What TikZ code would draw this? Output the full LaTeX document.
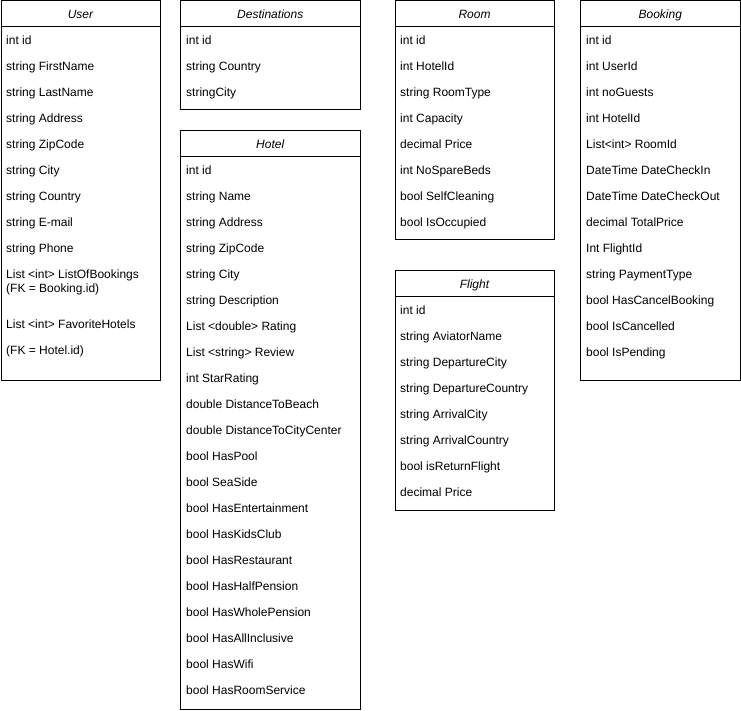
\documentclass[tikz,border=0pt]{standalone}
\usepackage{fontspec}
\setmainfont{Liberation Sans}
\begin{document}
\begin{tikzpicture}[x=1pt,y=-1pt,
  box/.style={draw=black,line width=1pt},
  hdr/.style={font=\fontsize{12}{14}\selectfont\itshape,anchor=base,inner sep=0pt},
  fld/.style={font=\fontsize{12}{14}\selectfont,anchor=base west,inner sep=0pt}]
\useasboundingbox (0,0) rectangle (741,711);
% class boxes: name, left, top, right, bottom, header height
\newcommand{\umlbox}[6]{%
  \draw[box] (#2,#3) rectangle (#4,#5);
  \draw[box] (#2,#3+26) -- (#4,#3+26);
  \node[hdr] (#1-title) at ({(#2+#4)/2},#3+18) {#6};}
\umlbox{user}{1}{1}{160}{380}{User}
\umlbox{dest}{180.5}{1}{360}{110}{Destinations}
\umlbox{hotel}{180.5}{130.5}{360}{709.5}{Hotel}
\umlbox{room}{395}{1}{554}{240}{Room}
\umlbox{flight}{395}{270.5}{554}{510}{Flight}
\umlbox{booking}{580.5}{1}{740}{380}{Booking}
% User
\foreach \t [count=\i] in {int id,string FirstName,string LastName,string Address,string ZipCode,string City,string Country,string E-mail,string Phone}
  \node[fld] (user-\i) at (6,{40+26*(\i-1)+4.3}) {\t};
\node[fld] (user-10) at (6,278.3) {List <int> ListOfBookings};
\node[fld] (user-11) at (6,292.3) {(FK = Booking.id)};
\node[fld] (user-12) at (6,328.3) {List <int> FavoriteHotels};
\node[fld] (user-13) at (6,354.3) {(FK = Hotel.id)};
% Destinations
\foreach \t [count=\i] in {int id,string Country,stringCity}
  \node[fld] (dest-\i) at (186,{40+26*(\i-1)+4.3}) {\t};
% Hotel
\foreach \t [count=\i] in {int id,string Name,string Address,string ZipCode,string City,string Description,List <double> Rating,List <string> Review,int StarRating,double DistanceToBeach,double DistanceToCityCenter,bool HasPool,bool SeaSide,bool HasEntertainment,bool HasKidsClub,bool HasRestaurant,bool HasHalfPension,bool HasWholePension,bool HasAllInclusive,bool HasWifi,bool HasRoomService}
  \node[fld] (hotel-\i) at (186,{170+26*(\i-1)+4.3}) {\t};
% Room
\foreach \t [count=\i] in {int id,int HotelId,string RoomType,int Capacity,decimal Price,int NoSpareBeds,bool SelfCleaning,bool IsOccupied}
  \node[fld] (room-\i) at (400,{40+26*(\i-1)+4.3}) {\t};
% Flight
\foreach \t [count=\i] in {int id,string AviatorName,string DepartureCity,string DepartureCountry,string ArrivalCity,string ArrivalCountry,bool isReturnFlight,decimal Price}
  \node[fld] (flight-\i) at (400,{310+26*(\i-1)+4.3}) {\t};
% Booking
\foreach \t [count=\i] in {int id,int UserId,int noGuests,int HotelId,List<int> RoomId,DateTime DateCheckIn,DateTime DateCheckOut,decimal TotalPrice,Int FlightId,string PaymentType,bool HasCancelBooking,bool IsCancelled,bool IsPending}
  \node[fld] (booking-\i) at (586,{40+26*(\i-1)+4.3}) {\t};
\end{tikzpicture}
\end{document}
